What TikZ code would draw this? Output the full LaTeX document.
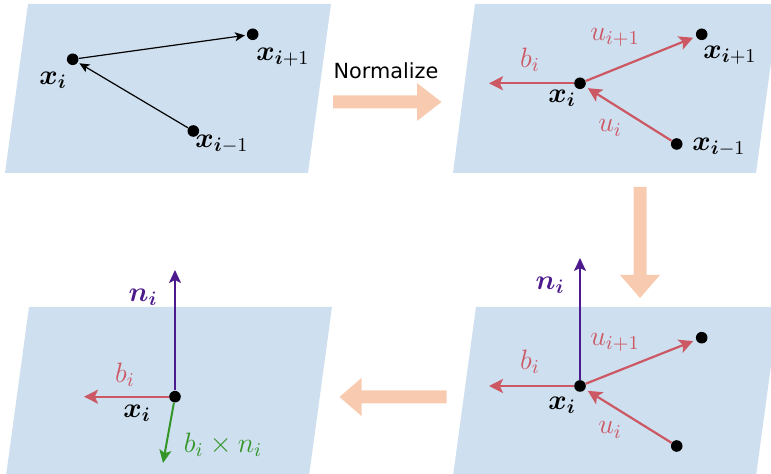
\RequirePackage{fix-cm}
\documentclass[tikz,border=0pt]{standalone}
\usepackage{bm}
\usepackage{fontspec}
\newfontfamily\normfont{DejaVu Sans}
\usetikzlibrary{arrows.meta}
\definecolor{panelc}{RGB}{206,223,239}
\definecolor{salmon}{RGB}{248,203,176}
\definecolor{redc}{RGB}{204,88,100}
\definecolor{purpc}{RGB}{76,26,140}
\definecolor{greenc}{RGB}{52,150,40}
\tikzset{
  panel/.style={fill=panelc, draw=none},
  bigarrow/.style={fill=salmon, draw=none},
  dot/.style={circle, fill=black, inner sep=0pt, minimum size=5.8pt},
  blk/.style={draw=black, line width=0.6pt, -{Stealth[length=5pt,width=4.5pt,inset=1.3pt]}, shorten >=0.8pt},
  redarr/.style={draw=redc, line width=1.1pt, -{Stealth[length=7pt,width=7pt,inset=1.6pt]}},
  purparr/.style={draw=purpc, line width=1pt, -{Stealth[length=6.5pt,width=6pt,inset=1.5pt]}},
  greenarr/.style={draw=greenc, line width=1pt, -{Stealth[length=6.5pt,width=6pt,inset=1.5pt]}},
  lbl/.style={inner sep=0pt, font=\fontsize{14}{16}\selectfont},
  rlbl/.style={lbl, text=redc},
  plbl/.style={lbl, text=purpc},
  glbl/.style={lbl, text=greenc},
}
\begin{document}
\begin{tikzpicture}[x=0.5pt,y=-0.5pt]
\useasboundingbox (0,0) rectangle (771,474);
\begin{scope}
\clip (0,0) rectangle (771,474);
% panels
\fill[panel] (28,4) -- (331,4) -- (308,173) -- (5,173) -- cycle;
\fill[panel] (475,4) -- (779,4) -- (756,173) -- (453,173) -- cycle;
\fill[panel] (29,307) -- (332,307) -- (309,476) -- (6,476) -- cycle;
\fill[panel] (476,307) -- (779,307) -- (756,476) -- (453,476) -- cycle;
\end{scope}
% big transition arrows
\fill[bigarrow] (333,95.5) -- (417,95.5) -- (417,83) -- (441.5,102) -- (417,121) -- (417,108.5) -- (333,108.5) -- cycle;
\fill[bigarrow] (633.5,187) -- (646.5,187) -- (646.5,275) -- (660,275) -- (640,298) -- (620,275) -- (633.5,275) -- cycle;
\fill[bigarrow] (446.5,390.5) -- (361.5,390.5) -- (361.5,378) -- (339.5,397) -- (361.5,416) -- (361.5,403.5) -- (446.5,403.5) -- cycle;
\node[inner sep=0pt, font=\normfont\fontsize{10.4}{12}\selectfont] (norm) at (386,71) {Normalize};

% ---------- panel 1 ----------
\node[dot] (p1m) at (72.7,59.3) {};
\node[dot] (p1n) at (252.7,34.3) {};
\node[dot] (p1p) at (193.3,131) {};
\draw[blk] (p1m) -- (p1n);
\draw[blk] (p1p) -- (p1m);
\node[lbl] (l1m) at (53,80) {$\bm{x}_{\bm{i}}$};
\node[lbl] (l1n) at (283,57) {$\bm{x}_{\bm{i}+1}$};
\node[lbl] (l1p) at (222,144) {$\bm{x}_{\bm{i}-1}$};

% ---------- panel 2 ----------
\node[dot] (p2m) at (580,83.3) {};
\node[dot] (p2n) at (701.7,34.3) {};
\node[dot] (p2p) at (676.7,144) {};
\coordinate (p2b) at (489,83.3);
\draw[redarr] (p2m) -- (p2b);
\draw[redarr, shorten >=1.5pt] (p2m) -- (p2n);
\draw[redarr, shorten >=1.5pt] (p2p) -- (p2m);
\node[rlbl] (l2b) at (530,60) {$b_i$};
\node[rlbl] (l2un) at (615,37) {$u_{i+1}$};
\node[rlbl] (l2u) at (610,128) {$u_i$};
\node[lbl] (l2m) at (562,98) {$\bm{x}_{\bm{i}}$};
\node[lbl] (l2n) at (730,55) {$\bm{x}_{\bm{i}+1}$};
\node[lbl] (l2p) at (719,147) {$\bm{x}_{\bm{i}-1}$};

% ---------- panel 4 (bottom right) ----------
\node[dot] (p4m) at (580,386) {};
\node[dot] (p4n) at (701.7,337.7) {};
\node[dot] (p4p) at (676.7,446) {};
\coordinate (p4b) at (489,386);
\coordinate (p4t) at (580,258);
\draw[purparr] (p4m) -- (p4t);
\draw[redarr] (p4m) -- (p4b);
\draw[redarr, shorten >=1.5pt] (p4m) -- (p4n);
\draw[redarr, shorten >=1.5pt] (p4p) -- (p4m);
\node[plbl] (l4n) at (550,285) {$\bm{n}_{\bm{i}}$};
\node[rlbl] (l4b) at (530,362) {$b_i$};
\node[rlbl] (l4un) at (615,342) {$u_{i+1}$};
\node[rlbl] (l4u) at (610,430) {$u_i$};
\node[lbl] (l4m) at (562,405) {$\bm{x}_{\bm{i}}$};

% ---------- panel 3 (bottom left) ----------
\node[dot] (p3m) at (175,396.7) {};
\coordinate (p3t) at (175,270);
\coordinate (p3b) at (84,396.7);
\coordinate (p3g) at (163,463);
\draw[purparr] (p3m) -- (p3t);
\draw[redarr] (p3m) -- (p3b);
\draw[greenarr] (p3m) -- (p3g);
\node[plbl] (l3n) at (143,297) {$\bm{n}_{\bm{i}}$};
\node[rlbl] (l3b) at (125,375) {$b_i$};
\node[lbl] (l3m) at (137,413) {$\bm{x}_{\bm{i}}$};
\node[glbl] (l3g) at (223,445) {$b_i \times n_i$};
\end{tikzpicture}
\end{document}
